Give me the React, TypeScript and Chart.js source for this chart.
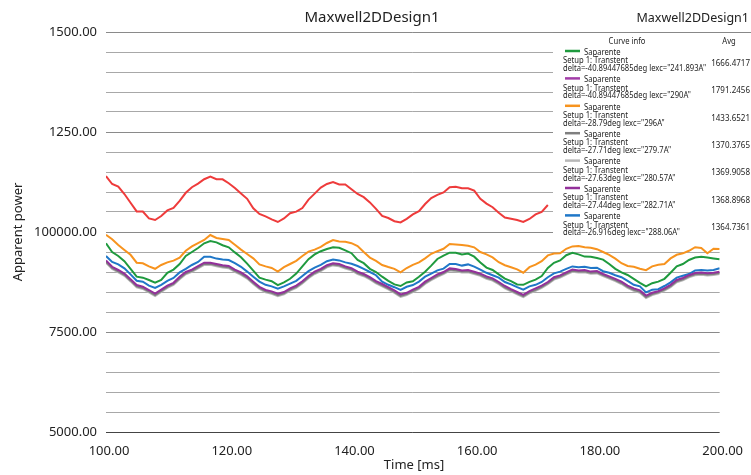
import React, { useEffect, useRef } from 'react';
import { Chart, registerables } from 'chart.js';

Chart.register(...registerables);

const times = [
  100, 101, 102, 103, 104, 105, 106, 107, 108, 109, 110, 111, 112, 113, 114, 115, 116, 117, 118, 119, 120,
  121, 122, 123, 124, 125, 126, 127, 128, 129, 130, 131, 132, 133, 134, 135, 136, 137, 138, 139, 140,
  141, 142, 143, 144, 145, 146, 147, 148, 149, 150, 151, 152, 153, 154, 155, 156, 157, 158, 159, 160,
  161, 162, 163, 164, 165, 166, 167, 168, 169, 170, 171, 172, 173, 174, 175, 176, 177, 178, 179, 180,
  181, 182, 183, 184, 185, 186, 187, 188, 189, 190, 191, 192, 193, 194, 195, 196, 197, 198, 199, 200,
];

const green241 = [
  9720, 9500, 9400, 9270, 9080, 8883, 8858, 8800, 8735, 8800, 8980, 9060, 9200, 9400, 9500, 9600, 9717, 9775, 9740, 9670, 9617,
  9490, 9370, 9210, 9033, 8860, 8810, 8770, 8670, 8740, 8830, 8960, 9140, 9320, 9440, 9520, 9575, 9620, 9605, 9540, 9470,
  9300, 9220, 9080, 9000, 8883, 8780, 8690, 8650, 8740, 8770, 8880, 9008, 9160, 9325, 9410, 9483, 9483, 9440, 9460, 9383,
  9240, 9110, 9050, 8940, 8835, 8770, 8690, 8680, 8755, 8810, 8900, 9100, 9230, 9290, 9420, 9480, 9440, 9385, 9383, 9350,
  9310, 9200, 9080, 8990, 8925, 8830, 8730, 8640, 8720, 8760, 8830, 8980, 9140, 9200, 9300, 9360, 9380, 9365, 9340, 9317,
];

const red290 = [
  11400, 11200, 11133, 10950, 10730, 10515, 10510, 10340, 10300, 10400, 10540, 10600, 10780, 10980, 11120, 11210, 11320, 11383, 11320, 11317, 11220,
  11100, 10960, 10830, 10592, 10450, 10390, 10317, 10250, 10340, 10470, 10508, 10600, 10810, 10960, 11110, 11200, 11250, 11190, 11190, 11070,
  10950, 10870, 10740, 10580, 10400, 10350, 10270, 10240, 10330, 10440, 10520, 10700, 10850, 10930, 10990, 11120, 11133, 11095, 11092, 11033,
  10830, 10710, 10620, 10480, 10360, 10330, 10300, 10250, 10325, 10440, 10505, 10675,
];

const orange296 = [
  9930, 9820, 9675, 9550, 9430, 9233, 9217, 9140, 9080, 9175, 9240, 9285, 9360, 9530, 9640, 9720, 9800, 9925, 9850, 9825, 9800,
  9680, 9560, 9450, 9342, 9190, 9140, 9100, 9010, 9120, 9200, 9280, 9400, 9510, 9560, 9630, 9725, 9800, 9765, 9755, 9720,
  9650, 9500, 9360, 9280, 9175, 9125, 9080, 8990, 9100, 9180, 9240, 9342, 9455, 9520, 9580, 9700, 9690, 9677, 9655, 9617,
  9500, 9440, 9365, 9245, 9170, 9120, 9065, 8983, 9120, 9185, 9270, 9415, 9460, 9467, 9580, 9640, 9650, 9617, 9608, 9570,
  9500, 9430, 9335, 9220, 9152, 9130, 9080, 9045, 9140, 9180, 9200, 9340, 9430, 9467, 9530, 9620, 9600, 9470, 9580, 9575,
];

const darkGray279 = [
  9255, 9100, 9015, 8930, 8790, 8640, 8600, 8515, 8425, 8525, 8630, 8700, 8845, 8970, 9030, 9115, 9200, 9205, 9170, 9135, 9120,
  9030, 8955, 8860, 8725, 8600, 8515, 8480, 8420, 8465, 8560, 8625, 8740, 8870, 8975, 9050, 9140, 9190, 9170, 9110, 9065,
  8975, 8920, 8840, 8740, 8665, 8590, 8505, 8405, 8450, 8525, 8600, 8725, 8820, 8905, 8970, 9060, 9045, 9010, 9020, 8975,
  8930, 8855, 8810, 8720, 8615, 8540, 8465, 8395, 8490, 8555, 8630, 8720, 8835, 8885, 8960, 9030, 9010, 9020, 8980, 8990,
  8920, 8860, 8800, 8725, 8630, 8555, 8505, 8375, 8450, 8490, 8560, 8645, 8770, 8820, 8890, 8945, 8955, 8935, 8950, 8975,
];

const lightGray280 = [
  9230, 9075, 8990, 8905, 8765, 8615, 8575, 8490, 8400, 8500, 8605, 8675, 8820, 8945, 9005, 9090, 9175, 9180, 9145, 9110, 9095,
  9005, 8930, 8835, 8700, 8575, 8490, 8455, 8395, 8440, 8535, 8600, 8715, 8845, 8950, 9025, 9115, 9165, 9145, 9085, 9040,
  8950, 8895, 8815, 8715, 8640, 8565, 8480, 8380, 8425, 8500, 8575, 8700, 8795, 8880, 8945, 9035, 9020, 8985, 8995, 8950,
  8905, 8830, 8785, 8695, 8590, 8515, 8440, 8370, 8465, 8530, 8605, 8695, 8810, 8860, 8935, 9005, 8985, 8995, 8955, 8965,
  8895, 8835, 8775, 8700, 8605, 8530, 8480, 8350, 8425, 8465, 8535, 8620, 8745, 8795, 8865, 8920, 8930, 8910, 8925, 8950,
];

const purple282 = [
  9290, 9130, 9050, 8960, 8820, 8675, 8633, 8550, 8460, 8560, 8660, 8730, 8880, 9000, 9060, 9150, 9233, 9233, 9200, 9170, 9150,
  9060, 8990, 8890, 8758, 8630, 8550, 8515, 8455, 8500, 8590, 8660, 8770, 8900, 9010, 9080, 9170, 9220, 9200, 9140, 9095,
  9008, 8950, 8870, 8770, 8700, 8620, 8540, 8440, 8480, 8560, 8630, 8758, 8850, 8940, 9000, 9090, 9075, 9040, 9050, 9008,
  8960, 8890, 8840, 8750, 8650, 8570, 8500, 8430, 8520, 8590, 8660, 8750, 8870, 8915, 8990, 9060, 9040, 9050, 9010, 9025,
  8950, 8890, 8830, 8760, 8660, 8590, 8540, 8410, 8480, 8520, 8590, 8680, 8800, 8850, 8920, 8975, 8985, 8967, 8980, 9008,
];

const blue288 = [
  9400, 9250, 9190, 9090, 8940, 8780, 8758, 8660, 8600, 8680, 8780, 8850, 8990, 9080, 9175, 9250, 9383, 9383, 9335, 9310, 9300,
  9220, 9130, 9010, 8883, 8760, 8680, 8640, 8585, 8640, 8710, 8780, 8900, 9020, 9110, 9180, 9270, 9310, 9290, 9240, 9205,
  9150, 9080, 9000, 8920, 8758, 8680, 8620, 8555, 8630, 8675, 8760, 8883, 8960, 9040, 9085, 9200, 9200, 9160, 9190, 9133,
  9060, 8980, 8920, 8860, 8750, 8690, 8620, 8560, 8640, 8680, 8750, 8870, 8967, 9010, 9080, 9140, 9120, 9133, 9100, 9108,
  9020, 8980, 8920, 8870, 8780, 8680, 8640, 8490, 8555, 8570, 8650, 8740, 8860, 8905, 8950, 9040, 9050, 9040, 9050, 9092,
];

const yTickValues = [5000, 7500, 10000, 12500, 15000];
const yTickLabels = ['5000.00', '7500.00', '100000.00', '1250.00', '1500.00'];
const xTickValues = [100, 120, 140, 160, 180, 200];
const xTickLabels = ['100.00', '120.00', '140.00', '160.00', '180.00', '200.00'];

const legendNames = ['Saparente', 'Saparente', 'Saparente', 'Saparente', 'Saparente', 'Saparente', 'Saparente'];
const legendSetups = [
  'Setup 1: Transtent', 'Setup 1: Transtent', 'Setup 1: Transtent', 'Setup 1: Transtent',
  'Setup 1: Transtent', 'Setup 1: Transtent', 'Setup 1: Transtent',
];
const legendDeltas = [
  'delta=-40.89447685deg lexc="241.893A"',
  'delta=-40.89447685deg lexc="290A"',
  'delta=-28.79deg lexc="296A"',
  'delta=-27.71deg lexc="279.7A"',
  'delta=-27.63deg lexc="280.57A"',
  'delta=-27.44deg lexc="282.71A"',
  'delta=-26.916deg lexc="288.06A"',
];
const legendAvgs = ['1666.4717', '1791.2456', '1433.6521', '1370.3765', '1369.9058', '1368.8968', '1364.7361'];

const lineColors = ['#1f9a3e', '#ee3b3b', '#f7931e', '#7f7f7f', '#b8b8b8', '#93309a', '#1f77c8'];
const swatchColors = ['#1f9a3e', '#a23ca8', '#f7931e', '#7f7f7f', '#b8b8b8', '#93309a', '#1f77c8'];
const seriesValues = [green241, red290, orange296, darkGray279, lightGray280, purple282, blue288];
const seriesOrder = [0, 0, 0, 1, 2, 0, 0];

const designTitle = 'Maxwell2DDesign1';
const yTitle = 'Apparent power';
const xTitle = 'Time [ms]';

const SANS = '"Noto Sans", "DejaVu Sans", sans-serif';

function drawNarrow(ctx: CanvasRenderingContext2D, text: string, x: number, y: number, f: number, align: 'left' | 'right' | 'center') {
  ctx.save();
  ctx.translate(x, y);
  ctx.scale(f, 1);
  ctx.textAlign = align;
  ctx.fillText(text, 0, 0);
  ctx.restore();
}

const overlayPlugin = {
  id: 'overlayPlugin',
  afterDraw(chart: any) {
    const ctx = chart.ctx as CanvasRenderingContext2D;
    ctx.save();
    ctx.fillStyle = '#222';
    ctx.textBaseline = 'middle';
    ctx.font = `15px ${SANS}`;
    ctx.textAlign = 'center';
    ctx.fillText(designTitle, 372, 18);
    ctx.font = `12.5px ${SANS}`;
    ctx.textAlign = 'right';
    ctx.fillText(designTitle, 749, 18);

    ctx.font = `13px ${SANS}`;
    ctx.textAlign = 'center';
    ctx.fillText(xTitle, 414, 465);
    ctx.save();
    ctx.translate(18, 232);
    ctx.rotate(-Math.PI / 2);
    ctx.fillText(yTitle, 0, 0);
    ctx.restore();

    // legend box
    ctx.fillStyle = '#ffffff';
    ctx.fillRect(553, 33, 198, 207);
    ctx.strokeStyle = '#888';
    ctx.lineWidth = 1;
    ctx.beginPath();
    ctx.moveTo(553, 32.5);
    ctx.lineTo(751, 32.5);
    ctx.stroke();

    ctx.fillStyle = '#222';
    ctx.font = `9.5px ${SANS}`;
    const f = 143 / ctx.measureText(legendDeltas[0]).width;
    drawNarrow(ctx, 'Curve info', 627, 41, f, 'center');
    drawNarrow(ctx, 'Avg', 729, 41, f, 'center');

    for (let i = 0; i < legendNames.length; i++) {
      const base = 51 + 27.4 * i;
      ctx.strokeStyle = swatchColors[i];
      ctx.lineWidth = 2.5;
      ctx.beginPath();
      ctx.moveTo(565, base);
      ctx.lineTo(580, base);
      ctx.stroke();
      ctx.fillStyle = '#222';
      drawNarrow(ctx, legendNames[i], 584, base + 1, f, 'left');
      drawNarrow(ctx, legendSetups[i], 563, base + 9.5, f, 'left');
      drawNarrow(ctx, legendDeltas[i], 563, base + 17.3, f, 'left');
      drawNarrow(ctx, legendAvgs[i], 750, base + 12, f * 1.05, 'right');
    }
    ctx.restore();
  },
};

export default function App() {
  const canvasRef = useRef<HTMLCanvasElement | null>(null);

  useEffect(() => {
    if (!canvasRef.current) return;
    const datasets = seriesValues.map((vals, i) => ({
      label: legendDeltas[i],
      data: vals.map((v, k) => ({ x: times[k], y: v })),
      borderColor: lineColors[i],
      backgroundColor: lineColors[i],
      borderWidth: 2,
      pointRadius: 0,
      tension: 0,
      fill: false,
      order: seriesOrder[i],
    }));

    const chart = new Chart(canvasRef.current, {
      type: 'line',
      data: { datasets },
      options: {
        responsive: false,
        animation: false,
        layout: { padding: { top: 32, right: 25, left: 0, bottom: 0 } },
        plugins: {
          legend: { display: false },
          tooltip: { enabled: false },
          title: { display: false },
        },
        scales: {
          x: {
            type: 'linear',
            min: 100,
            max: 200,
            afterFit: (s: any) => {
              s.height = 43;
            },
            afterBuildTicks: (s: any) => {
              s.ticks = xTickValues.map((v) => ({ value: v }));
            },
            ticks: {
              callback: (v: any) => {
                const idx = xTickValues.indexOf(Number(v));
                return idx >= 0 ? xTickLabels[idx] : '';
              },
              color: '#222',
              font: { family: SANS, size: 13 },
              padding: 11,
              labelOffset: 3,
              maxRotation: 0,
              autoSkip: false,
            },
            grid: { display: false, drawTicks: false },
            border: { display: false },
          },
          y: {
            type: 'linear',
            min: 5000,
            max: 15000,
            afterFit: (s: any) => {
              s.width = 106;
            },
            ticks: {
              stepSize: 500,
              autoSkip: false,
              callback: (v: any) => {
                const idx = yTickValues.indexOf(Number(v));
                return idx >= 0 ? yTickLabels[idx] : '';
              },
              color: '#222',
              font: { family: SANS, size: 13 },
              padding: 9,
            },
            grid: {
              drawTicks: false,
              lineWidth: 1,
              color: (c: any) => {
                const v = c.tick ? c.tick.value : 0;
                if (v === 5000) return '#444';
                if (yTickValues.indexOf(v) >= 0) return '#8a8a8a';
                return '#a8a8a8';
              },
            },
            border: { display: false },
          },
        },
      },
      plugins: [overlayPlugin],
    });
    return () => chart.destroy();
  }, []);

  return (
    <div style={{ position: 'absolute', left: 0, top: 0, width: 751, height: 475, background: '#fff' }}>
      <canvas ref={canvasRef} width={751} height={475} style={{ width: 751, height: 475, display: 'block' }} />
    </div>
  );
}
